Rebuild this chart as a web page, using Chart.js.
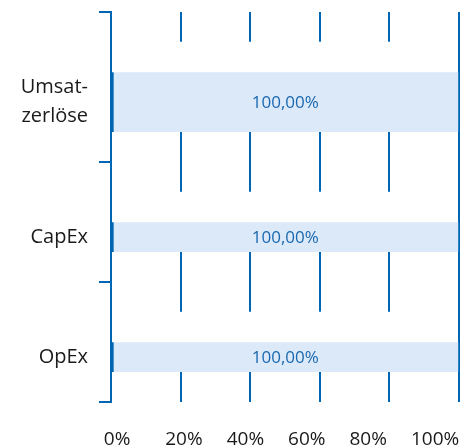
<!DOCTYPE html>
<html>
<head>
<meta charset="utf-8">
<script src="https://cdn.jsdelivr.net/npm/chart.js@4/dist/chart.umd.min.js"></script>
<style>
html,body{margin:0;padding:0;background:#fff}
canvas{display:block}
</style>
</head>
<body>
<canvas id="c" width="467" height="448"></canvas>
<script>
// ---- data ----
const categories = [['Umsat-', 'zerlöse'], 'CapEx', 'OpEx'];
const shareValues = [100, 100, 100];
const spacerValues = [99, 99, 99];
const xTickValues = [0, 20, 40, 60, 80, 100];

// ---- style ----
const BLUE = '#0066b3';
const BAR = '#dbe9f8';
const VALUE_COLOR = '#1a68b0';
const TEXT = '#1a1a1a';
const FONT = '"Open Sans", "Noto Sans", sans-serif';
const UNIT = 30;

const lineCount = categories.map(c => Array.isArray(c) ? c.length : 1);

// Category scale whose row heights follow the number of label lines
class RowScale extends Chart.CategoryScale {
  static id = 'rows';
  static defaults = Chart.CategoryScale.defaults;
  _rows() {
    const labels = this.getLabels();
    const lines = labels.map(l => Array.isArray(l) ? l.length : 1);
    const units = lines.map(n => n + 3);
    const total = units.reduce((a, b) => a + b, 0);
    const u = (this.bottom - this.top) / total;
    let y = this.top;
    return lines.map((n, i) => {
      const r = { start: y, anchor: y + 2 * u, label: y + 2 * u + n * u / 2, end: y + units[i] * u };
      y = r.end;
      return r;
    });
  }
  getPixelForValue(value) {
    if (typeof value !== 'number') value = this.parse(value);
    if (value === null || value === undefined) return NaN;
    const r = this._rows()[Math.round(value)];
    return r ? r.anchor : NaN;
  }
  getPixelForTick(index) {
    const r = this._rows()[index];
    return r ? r.label : null;
  }
  _computeGridLineItems(chartArea) {
    const items = super._computeGridLineItems(chartArea);
    if (!items.length) return items;
    const rows = this._rows();
    const bounds = [rows[0].start, ...rows.map(r => r.end)];
    return bounds.map(b => {
      const y = Math.round(b);
      return Object.assign({}, items[0], { ty1: y, ty2: y, y1: y, y2: y });
    });
  }
}
Chart.register(RowScale);

const fmt = v => v.toFixed(2).replace('.', ',') + '%';

const valueLabels = {
  id: 'valueLabels',
  afterDatasetsDraw(chart) {
    const ctx = chart.ctx;
    ctx.save();
    ctx.font = '17px ' + FONT;
    ctx.fillStyle = VALUE_COLOR;
    ctx.textAlign = 'center';
    ctx.textBaseline = 'middle';
    chart.data.datasets.forEach((ds, di) => {
      if (!ds.showValue) return;
      chart.getDatasetMeta(di).data.forEach((el, i) => {
        const v = ds.data[i];
        if (v === null || v === undefined) return;
        const p = el.getProps(['x', 'y', 'base'], true);
        ctx.fillText(fmt(v), (p.x + p.base) / 2, p.y + 1);
      });
    });
    ctx.restore();
  }
};

const datasets = [
  {
    label: 'spacer',
    data: spacerValues,
    backgroundColor: '#ffffff',
    borderWidth: 0,
    barThickness: UNIT
  },
  ...categories.map((c, i) => ({
    label: 'Anteil',
    data: shareValues.map((v, j) => (j === i ? v : null)),
    backgroundColor: BAR,
    borderColor: BLUE,
    borderWidth: { left: 2, top: 0, right: 0, bottom: 0 },
    borderSkipped: false,
    barThickness: UNIT * lineCount[i],
    showValue: true
  }))
];

new Chart(document.getElementById('c'), {
  type: 'bar',
  data: { labels: categories, datasets },
  plugins: [valueLabels],
  options: {
    indexAxis: 'y',
    responsive: false,
    animation: false,
    events: [],
    skipNull: true,
    layout: { padding: { top: 12, right: 8.5, bottom: 0, left: 0 } },
    plugins: { legend: { display: false }, tooltip: { enabled: false } },
    scales: {
      y: {
        type: 'rows',
        afterFit: s => { s.width = 111; s.paddingTop = 0; s.paddingBottom = 0; },
        grid: { drawOnChartArea: false, color: BLUE, lineWidth: 2, tickLength: 12, tickWidth: 2, tickColor: BLUE },
        border: { display: true, color: BLUE, width: 2, z: 1 },
        ticks: { color: TEXT, font: { family: FONT, size: 20, lineHeight: 1.45 }, padding: 11, autoSkip: false }
      },
      x: {
        type: 'linear',
        min: 0,
        max: 100,
        grid: { color: BLUE, lineWidth: 2, drawTicks: false },
        border: { display: false },
        ticks: { display: false, stepSize: 20 }
      },
      x2: {
        type: 'linear',
        position: 'bottom',
        min: 2.34,
        max: 115.5,
        grid: { display: false, drawTicks: false },
        border: { display: false },
        afterBuildTicks: s => { s.ticks = xTickValues.map(v => ({ value: v })); },
        afterFit: s => { s.height = 46; s.paddingLeft = 0; s.paddingRight = 0; },
        ticks: {
          align: 'start', autoSkip: false, maxRotation: 0, padding: 26,
          color: TEXT, font: { family: FONT, size: 19 },
          callback: v => v + '%'
        }
      }
    }
  }
});
</script>
</body>
</html>
